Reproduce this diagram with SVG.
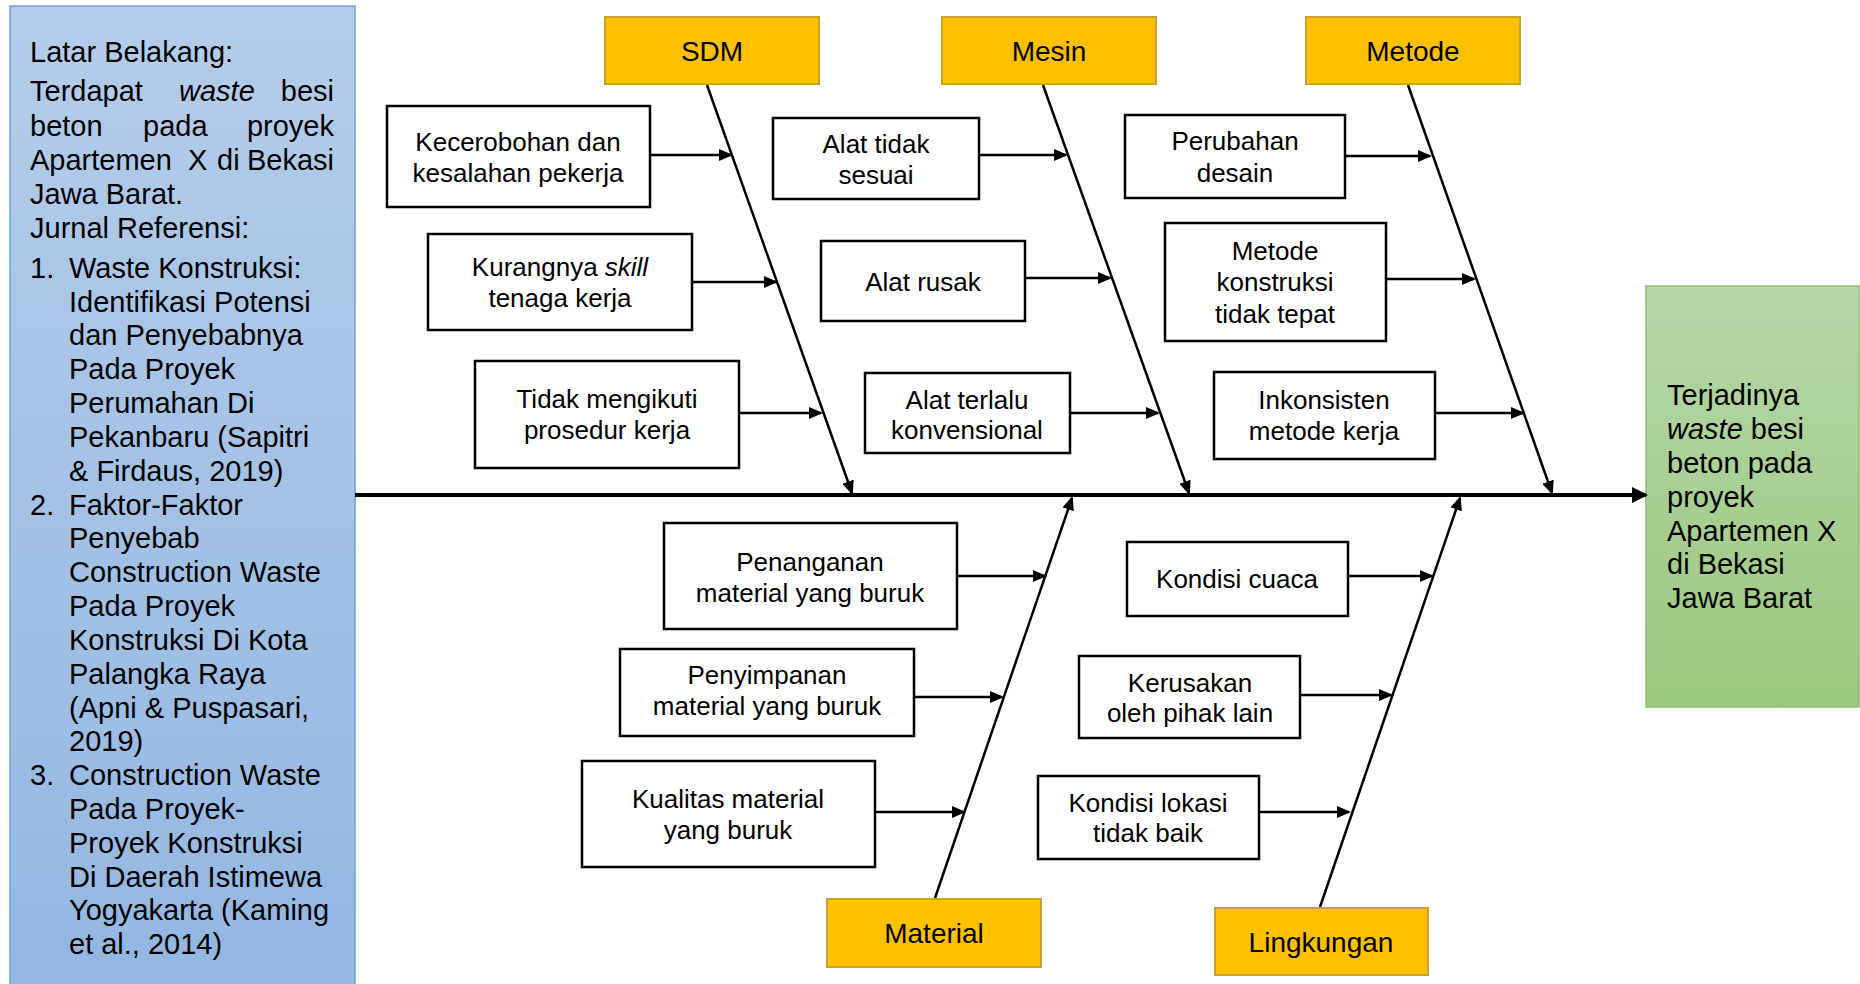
<svg xmlns="http://www.w3.org/2000/svg" width="1860" height="984" viewBox="0 0 1860 984">
  <defs>
    <linearGradient id="blueFill" x1="0" y1="0" x2="0" y2="1">
      <stop offset="0" stop-color="#B4CDEA"/>
      <stop offset="1" stop-color="#93B7E2"/>
    </linearGradient>
    <linearGradient id="greenFill" x1="0" y1="0" x2="0" y2="1">
      <stop offset="0" stop-color="#B6D7A9"/>
      <stop offset="1" stop-color="#9BC87E"/>
    </linearGradient>
    <marker id="arrow" markerUnits="userSpaceOnUse" markerWidth="14" markerHeight="12" refX="12" refY="6" orient="auto">
      <path d="M0,0 L14,6 L0,12 Z" fill="#000"/>
    </marker>
    <marker id="bigArrow" markerUnits="userSpaceOnUse" markerWidth="16" markerHeight="16" refX="14" refY="8" orient="auto">
      <path d="M0,0 L16,8 L0,16 Z" fill="#000"/>
    </marker>
  </defs>
  <style>
    text { font-family: "Liberation Sans", Arial, sans-serif; fill: #000; }
    .panel { font-size: 29px; }
    .cause { font-size: 26px; text-anchor: middle; }
    .cat { font-size: 28px; text-anchor: middle; }
    .box { fill: #fff; stroke: #000; stroke-width: 2.5; }
    .catbox { fill: #FFC000; stroke: #C9A227; stroke-width: 2; }
    .bone { stroke: #000; stroke-width: 2.5; fill: none; marker-end: url(#arrow); }
    .spine { stroke: #000; stroke-width: 4; fill: none; marker-end: url(#bigArrow); }
  </style>

  <rect width="1860" height="984" fill="#fff"/>

  <!-- background / references panel -->
  <g id="background-panel">
    <rect x="10" y="6" width="345" height="990" fill="url(#blueFill)" stroke="#6FA0D8" stroke-width="1.5"/>
    <text class="panel" x="30" y="62">Latar Belakang:</text>
    <!-- justified paragraph: words placed individually -->
    <text class="panel" x="30" y="101">Terdapat</text>
    <text class="panel" x="179" y="101" font-style="italic">waste</text>
    <text class="panel" x="334" y="101" text-anchor="end">besi</text>
    <text class="panel" x="30" y="136">beton</text>
    <text class="panel" x="143" y="136">pada</text>
    <text class="panel" x="334" y="136" text-anchor="end">proyek</text>
    <text class="panel" x="30" y="170">Apartemen</text>
    <text class="panel" x="188" y="170">X</text>
    <text class="panel" x="217" y="170">di</text>
    <text class="panel" x="334" y="170" text-anchor="end">Bekasi</text>
    <text class="panel" x="30" y="204">Jawa Barat.</text>
    <text class="panel" x="30" y="238">Jurnal Referensi:</text>
    <text class="panel" x="30" y="278">1.</text>
    <text class="panel" x="69" y="278">Waste Konstruksi:</text>
    <text class="panel" x="69" y="312">Identifikasi Potensi</text>
    <text class="panel" x="69" y="345">dan Penyebabnya</text>
    <text class="panel" x="69" y="379">Pada Proyek</text>
    <text class="panel" x="69" y="413">Perumahan Di</text>
    <text class="panel" x="69" y="447">Pekanbaru (Sapitri</text>
    <text class="panel" x="69" y="481">&amp; Firdaus, 2019)</text>
    <text class="panel" x="30" y="515">2.</text>
    <text class="panel" x="69" y="515">Faktor-Faktor</text>
    <text class="panel" x="69" y="548">Penyebab</text>
    <text class="panel" x="69" y="582">Construction Waste</text>
    <text class="panel" x="69" y="616">Pada Proyek</text>
    <text class="panel" x="69" y="650">Konstruksi Di Kota</text>
    <text class="panel" x="69" y="684">Palangka Raya</text>
    <text class="panel" x="69" y="718">(Apni &amp; Puspasari,</text>
    <text class="panel" x="69" y="751">2019)</text>
    <text class="panel" x="30" y="785">3.</text>
    <text class="panel" x="69" y="785">Construction Waste</text>
    <text class="panel" x="69" y="819">Pada Proyek-</text>
    <text class="panel" x="69" y="853">Proyek Konstruksi</text>
    <text class="panel" x="69" y="887">Di Daerah Istimewa</text>
    <text class="panel" x="69" y="920">Yogyakarta (Kaming</text>
    <text class="panel" x="69" y="954">et al., 2014)</text>
  </g>

  <!-- effect (head of the fish) -->
  <g id="effect">
    <rect x="1646" y="286" width="213" height="421" fill="url(#greenFill)" stroke="#8DBF6F" stroke-width="1.5"/>
    <text class="panel" x="1667" y="405">Terjadinya</text>
    <text class="panel" x="1667" y="439"><tspan font-style="italic">waste</tspan> besi</text>
    <text class="panel" x="1667" y="473">beton pada</text>
    <text class="panel" x="1667" y="507">proyek</text>
    <text class="panel" x="1667" y="541">Apartemen X</text>
    <text class="panel" x="1667" y="574">di Bekasi</text>
    <text class="panel" x="1667" y="608">Jawa Barat</text>
  </g>

  <!-- spine, category bones and cause arrows -->
  <g id="connectors">
    <line class="spine" x1="355" y1="495" x2="1646" y2="495"/>
    <line class="bone" x1="707" y1="85" x2="852" y2="493"/>
    <line class="bone" x1="1043" y1="85" x2="1189" y2="493"/>
    <line class="bone" x1="1408" y1="85" x2="1552" y2="493"/>
    <line class="bone" x1="935" y1="898" x2="1072" y2="498"/>
    <line class="bone" x1="1320" y1="907" x2="1460" y2="498"/>

    <line class="bone" x1="650" y1="155" x2="731" y2="155"/>
    <line class="bone" x1="692" y1="282" x2="776" y2="282"/>
    <line class="bone" x1="739" y1="413" x2="821" y2="413"/>

    <line class="bone" x1="979" y1="155" x2="1066" y2="155"/>
    <line class="bone" x1="1025" y1="278" x2="1110" y2="278"/>
    <line class="bone" x1="1070" y1="413" x2="1158" y2="413"/>

    <line class="bone" x1="1345" y1="156" x2="1430" y2="156"/>
    <line class="bone" x1="1386" y1="279" x2="1474" y2="279"/>
    <line class="bone" x1="1435" y1="413" x2="1523" y2="413"/>

    <line class="bone" x1="957" y1="576" x2="1045" y2="576"/>
    <line class="bone" x1="914" y1="697" x2="1002" y2="697"/>
    <line class="bone" x1="875" y1="812" x2="964" y2="812"/>

    <line class="bone" x1="1348" y1="576" x2="1432" y2="576"/>
    <line class="bone" x1="1300" y1="695" x2="1391" y2="695"/>
    <line class="bone" x1="1259" y1="812" x2="1349" y2="812"/>
  </g>

  <!-- categories -->
  <g id="cat-sdm">
    <rect class="catbox" x="605" y="17" width="214" height="67"/>
    <text class="cat" x="712" y="61">SDM</text>
  </g>
  <g id="cat-mesin">
    <rect class="catbox" x="942" y="17" width="214" height="67"/>
    <text class="cat" x="1049" y="61">Mesin</text>
  </g>
  <g id="cat-metode">
    <rect class="catbox" x="1306" y="17" width="214" height="67"/>
    <text class="cat" x="1413" y="61">Metode</text>
  </g>
  <g id="cat-material">
    <rect class="catbox" x="827" y="899" width="214" height="68"/>
    <text class="cat" x="934" y="943">Material</text>
  </g>
  <g id="cat-lingkungan">
    <rect class="catbox" x="1215" y="908" width="213" height="67"/>
    <text class="cat" x="1321" y="952">Lingkungan</text>
  </g>

  <!-- SDM causes -->
  <g id="sdm-1">
    <rect class="box" x="387" y="106" width="263" height="101"/>
    <text class="cause" x="518" y="151">Kecerobohan dan</text>
    <text class="cause" x="518" y="182">kesalahan pekerja</text>
  </g>
  <g id="sdm-2">
    <rect class="box" x="428" y="234" width="264" height="96"/>
    <text class="cause" x="560" y="276">Kurangnya <tspan font-style="italic">skill</tspan></text>
    <text class="cause" x="560" y="307">tenaga kerja</text>
  </g>
  <g id="sdm-3">
    <rect class="box" x="475" y="361" width="264" height="107"/>
    <text class="cause" x="607" y="408">Tidak mengikuti</text>
    <text class="cause" x="607" y="439">prosedur kerja</text>
  </g>

  <!-- Mesin causes -->
  <g id="mesin-1">
    <rect class="box" x="773" y="118" width="206" height="81"/>
    <text class="cause" x="876" y="153">Alat tidak</text>
    <text class="cause" x="876" y="184">sesuai</text>
  </g>
  <g id="mesin-2">
    <rect class="box" x="821" y="241" width="204" height="80"/>
    <text class="cause" x="923" y="291">Alat rusak</text>
  </g>
  <g id="mesin-3">
    <rect class="box" x="865" y="373" width="205" height="80"/>
    <text class="cause" x="967" y="409">Alat terlalu</text>
    <text class="cause" x="967" y="439">konvensional</text>
  </g>

  <!-- Metode causes -->
  <g id="metode-1">
    <rect class="box" x="1125" y="115" width="220" height="83"/>
    <text class="cause" x="1235" y="150">Perubahan</text>
    <text class="cause" x="1235" y="182">desain</text>
  </g>
  <g id="metode-2">
    <rect class="box" x="1165" y="223" width="221" height="118"/>
    <text class="cause" x="1275" y="260">Metode</text>
    <text class="cause" x="1275" y="291">konstruksi</text>
    <text class="cause" x="1275" y="323">tidak tepat</text>
  </g>
  <g id="metode-3">
    <rect class="box" x="1214" y="372" width="221" height="87"/>
    <text class="cause" x="1324" y="409">Inkonsisten</text>
    <text class="cause" x="1324" y="440">metode kerja</text>
  </g>

  <!-- Material causes -->
  <g id="material-1">
    <rect class="box" x="664" y="523" width="293" height="106"/>
    <text class="cause" x="810" y="571">Penanganan</text>
    <text class="cause" x="810" y="602">material yang buruk</text>
  </g>
  <g id="material-2">
    <rect class="box" x="620" y="649" width="294" height="87"/>
    <text class="cause" x="767" y="684">Penyimpanan</text>
    <text class="cause" x="767" y="715">material yang buruk</text>
  </g>
  <g id="material-3">
    <rect class="box" x="582" y="761" width="293" height="106"/>
    <text class="cause" x="728" y="808">Kualitas material</text>
    <text class="cause" x="728" y="839">yang buruk</text>
  </g>

  <!-- Lingkungan causes -->
  <g id="lingkungan-1">
    <rect class="box" x="1127" y="542" width="221" height="74"/>
    <text class="cause" x="1237" y="588">Kondisi cuaca</text>
  </g>
  <g id="lingkungan-2">
    <rect class="box" x="1079" y="656" width="221" height="82"/>
    <text class="cause" x="1190" y="692">Kerusakan</text>
    <text class="cause" x="1190" y="722">oleh pihak lain</text>
  </g>
  <g id="lingkungan-3">
    <rect class="box" x="1038" y="776" width="221" height="83"/>
    <text class="cause" x="1148" y="812">Kondisi lokasi</text>
    <text class="cause" x="1148" y="842">tidak baik</text>
  </g>
</svg>
